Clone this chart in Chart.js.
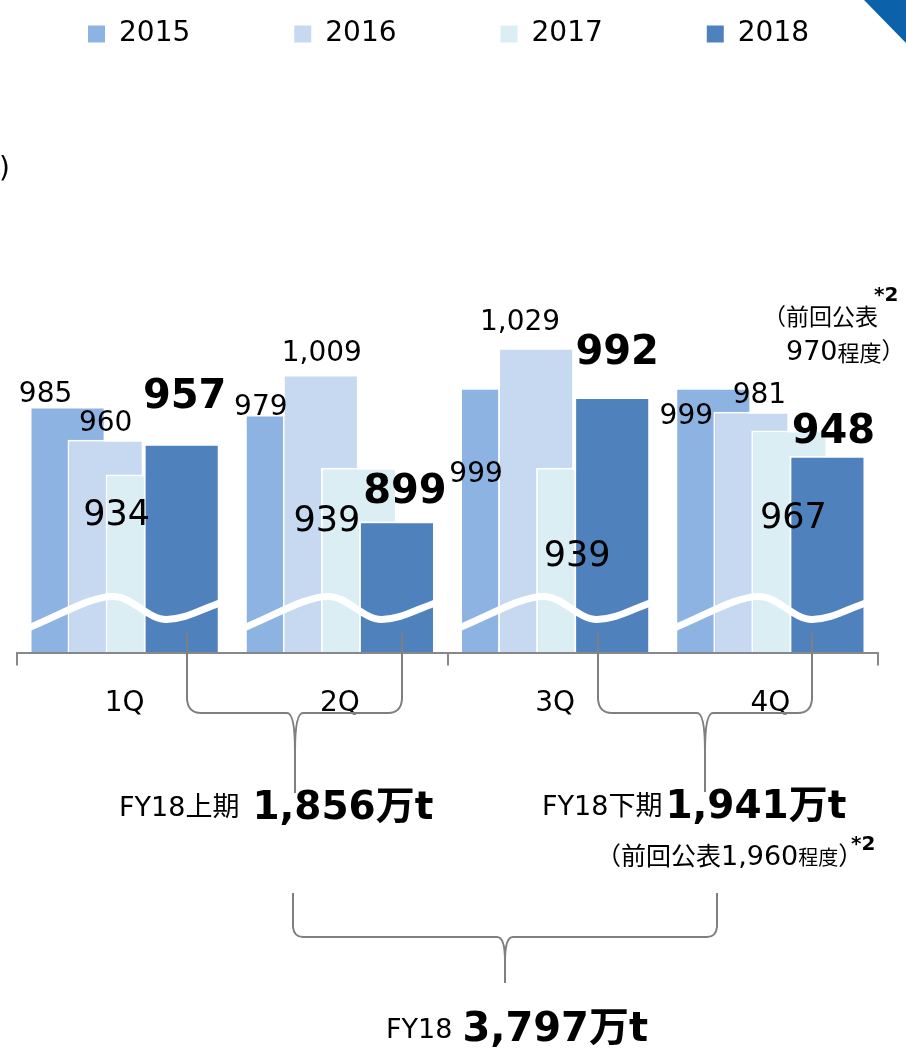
<!DOCTYPE html>
<html><head><meta charset="utf-8">
<script src="https://cdn.jsdelivr.net/npm/chart.js@4.4.1/dist/chart.umd.min.js"></script>
<style>html,body{margin:0;padding:0;background:#fff;overflow:hidden}canvas{display:block}</style>
</head><body>
<canvas id="c" width="906" height="1051"></canvas>
<script>
// ---- data ----
const categories = ['1Q', '2Q', '3Q', '4Q'];
const seriesNames = ['2015', '2016', '2017', '2018'];
const values2015 = [985, 979, 999, 999];
const values2016 = [960, 1009, 1029, 981];
const values2017 = [934, 939, 939, 967];
const values2018 = [957, 899, 992, 948];
const fy18FirstHalf = 1856;
const fy18SecondHalf = 1941;
const fy18Total = 3797;
const prevForecast4Q = 970;
const prevForecast2H = 1960;

// ---- styling ----
const seriesValues = [values2015, values2016, values2017, values2018];
const colors = ['#8DB3E2', '#C6D9F1', '#DBEEF4', '#4F81BD'];
const FAM = '"DejaVu Sans", "Noto Sans CJK JP", sans-serif';
const labelFonts = ['28px ' + FAM, '28px ' + FAM, '35px ' + FAM, 'bold 40px ' + FAM];
// label nudges (dx, dy) relative to bar top-centre
const labelOffsets = [
  [[-22, -12], [-22, -7], [-22, 87], [-27, 29]],
  [[0, -16], [1, -21], [-16, -25], [8, -16]],
  [[-27, 41], [-32, 54], [3, 89], [4, 88]],
  [[3, -46], [8, -29], [5, -43], [6, -23]]
];
const fmt = v => v.toLocaleString('en-US');

function drawRun(ctx, x, y, parts) {
  ctx.textAlign = 'left';
  ctx.textBaseline = 'middle';
  parts.forEach(p => {
    x += (p.gap || 0);
    ctx.font = p.f;
    ctx.fillText(p.t, x, y + (p.dy || 0));
    x += ctx.measureText(p.t).width;
  });
  return x;
}

function brace(ctx, L, R, C, top, barY, bottom, r, dip) {
  ctx.beginPath();
  ctx.moveTo(L, top);
  ctx.lineTo(L, barY - r);
  ctx.quadraticCurveTo(L + 1, barY, L + r, barY);
  ctx.lineTo(C - 8, barY);
  ctx.quadraticCurveTo(C, barY, C, barY + dip);
  ctx.lineTo(C, bottom);
  ctx.moveTo(R, top);
  ctx.lineTo(R, barY - r);
  ctx.quadraticCurveTo(R - 1, barY, R - r, barY);
  ctx.lineTo(C + 8, barY);
  ctx.quadraticCurveTo(C, barY, C, barY + dip);
  ctx.stroke();
}

// draw datasets so that later series overlap earlier ones
const drawOrderPlugin = {
  id: 'drawOrder',
  beforeDatasetsDraw(chart) {
    const a = chart.chartArea, ctx = chart.ctx;
    ctx.save();
    ctx.beginPath();
    ctx.rect(a.left, a.top, a.right - a.left, a.bottom - a.top);
    ctx.clip();
    const metas = chart.getSortedVisibleDatasetMetas().slice().sort((p, q) => p.index - q.index);
    metas.forEach(m => m.controller.draw());
    ctx.restore();
    return false;
  }
};

const overlayPlugin = {
  id: 'overlay',
  afterDraw(chart) {
    const ctx = chart.ctx;
    const area = chart.chartArea;
    const B = area.bottom;
    // axis-break waves
    categories.forEach((c, j) => {
      const first = chart.getDatasetMeta(0).data[j];
      const last = chart.getDatasetMeta(3).data[j];
      const L = first.x - first.width / 2, R = last.x + last.width / 2, W = R - L;
      ctx.save();
      ctx.beginPath();
      ctx.rect(L, area.top, W, B - area.top);
      ctx.clip();
      ctx.beginPath();
      ctx.moveTo(L - 2, B - 25);
      ctx.bezierCurveTo(L + 0.18 * W, B - 40, L + 0.32 * W, B - 57, L + 0.44 * W, B - 57);
      ctx.bezierCurveTo(L + 0.54 * W, B - 57, L + 0.62 * W, B - 34, L + 0.72 * W, B - 34);
      ctx.bezierCurveTo(L + 0.82 * W, B - 34, L + 0.9 * W, B - 44, R + 2, B - 51);
      ctx.strokeStyle = '#ffffff';
      ctx.lineWidth = 7;
      ctx.stroke();
      ctx.restore();
    });
    // brackets
    ctx.save();
    ctx.strokeStyle = '#7f7f7f';
    ctx.lineWidth = 2;
    brace(ctx, 187, 402, 295, 633, 713, 793, 14, 38);
    brace(ctx, 598, 812, 705, 633, 713, 792, 14, 38);
    brace(ctx, 293, 717, 505, 893, 937, 983, 10, 24);
    ctx.restore();
    // data labels
    ctx.save();
    ctx.fillStyle = '#000';
    ctx.textAlign = 'center';
    ctx.textBaseline = 'middle';
    seriesValues.forEach((vals, i) => {
      const meta = chart.getDatasetMeta(i);
      vals.forEach((v, j) => {
        const el = meta.data[j];
        ctx.font = labelFonts[i];
        ctx.fillText(fmt(v), el.x + labelOffsets[i][j][0], el.y + labelOffsets[i][j][1]);
      });
    });
    // annotation near 4Q
    ctx.fillStyle = '#000';
    drawRun(ctx, 763, 319, [{t: '（前回公表', f: '23px ' + FAM}]);
    drawRun(ctx, 874, 296, [{t: '*2', f: 'bold 20px ' + FAM}]);
    drawRun(ctx, 786, 353, [{t: String(prevForecast4Q), f: '27px ' + FAM}, {t: '程度', f: '22px ' + FAM, dy: 2}, {t: '）', f: '23px ' + FAM}]);
    // unit label fragment
    drawRun(ctx, -1, 170, [{t: ')', f: '28px ' + FAM}]);
    // half-year totals
    drawRun(ctx, 119, 809, [{t: 'FY18上期', f: '27px ' + FAM}, {t: fmt(fy18FirstHalf) + '万t', f: 'bold 39px ' + FAM, gap: 13}]);
    drawRun(ctx, 542, 808, [{t: 'FY18下期', f: '27px ' + FAM}, {t: fmt(fy18SecondHalf) + '万t', f: 'bold 39px ' + FAM, gap: 3}]);
    drawRun(ctx, 596, 858, [{t: '（前回公表', f: '25px ' + FAM}, {t: fmt(prevForecast2H), f: '27px ' + FAM}, {t: '程度', f: '20px ' + FAM, dy: 2}, {t: '）', f: '25px ' + FAM}]);
    drawRun(ctx, 851, 845, [{t: '*2', f: 'bold 20px ' + FAM}]);
    drawRun(ctx, 386, 1031, [{t: 'FY18', f: '27px ' + FAM}, {t: fmt(fy18Total) + '万t', f: 'bold 40px ' + FAM, gap: 10}]);
    // corner triangle
    ctx.fillStyle = '#0B62AB';
    ctx.beginPath();
    ctx.moveTo(864, 0); ctx.lineTo(906, 0); ctx.lineTo(906, 43); ctx.closePath();
    ctx.fill();
    ctx.restore();
  }
};

const Y_MIN = 800, Y_MAX = 1246;
const hiddenAxis = (pos, w) => ({
  type: 'linear',
  position: pos,
  display: true,
  min: Y_MIN,
  max: Y_MAX,
  ticks: {display: false},
  grid: {display: false, drawTicks: false},
  border: {display: false},
  afterFit(scale) { scale.width = w; }
});

new Chart(document.getElementById('c'), {
  type: 'bar',
  data: {
    labels: categories,
    datasets: seriesNames.map((n, i) => ({
      label: n,
      data: seriesValues[i],
      backgroundColor: colors[i],
      borderColor: '#ffffff',
      borderWidth: 2,
      borderSkipped: 'bottom',
      barPercentage: 2.0,
      categoryPercentage: 0.707,
      yAxisID: 'y'
    }))
  },
  options: {
    responsive: false,
    animation: false,
    devicePixelRatio: 1,
    layout: {padding: {top: -84, left: -16, right: -20, bottom: 308}},
    plugins: {
      legend: {
        position: 'top',
        align: 'start',
        labels: {
          font: {family: FAM, size: 28},
          color: '#000',
          boxWidth: 17,
          boxHeight: 17,
          padding: 104,
          generateLabels(chart) {
            return Chart.defaults.plugins.legend.labels.generateLabels(chart).map(l => Object.assign(l, {lineWidth: 0}));
          }
        }
      },
      tooltip: {enabled: false}
    },
    scales: {
      x: {
        offset: true,
        border: {display: true, color: '#888888', width: 2, z: 1},
        grid: {
          z: 1,
          offset: true,
          drawOnChartArea: false,
          drawTicks: true,
          tickLength: 12,
          lineWidth: 2,
          color: c => (c.index === undefined || c.index % 2 === 0) ? '#888888' : 'rgba(0,0,0,0)'
        },
        ticks: {z: 1, font: {family: FAM, size: 28}, color: '#000', padding: 22, maxRotation: 0}
      },
      y: hiddenAxis('left', 33),
      y2: hiddenAxis('right', 48)
    }
  },
  plugins: [drawOrderPlugin, overlayPlugin]
});
</script>
</body></html>
